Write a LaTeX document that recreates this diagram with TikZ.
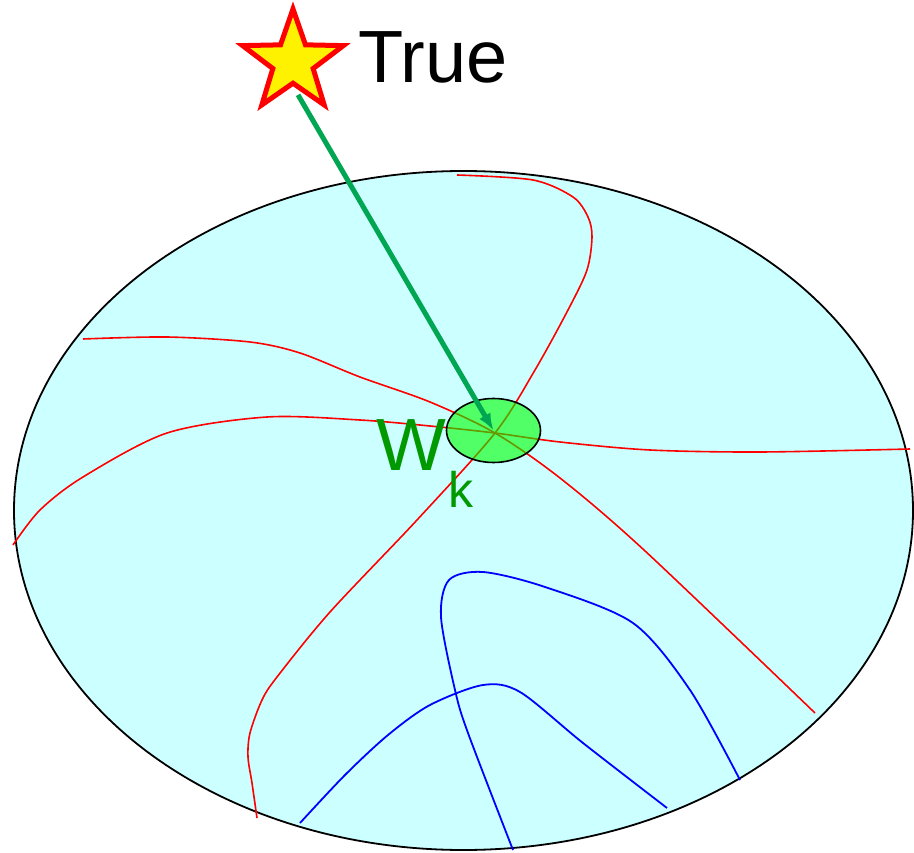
\documentclass[tikz,border=0pt]{standalone}
\usepackage{fontspec}
\setmainfont{Liberation Sans}
\usepackage{tikz}
\usetikzlibrary{
  arrows.meta,
  positioning,
  shapes.geometric
}
\definecolor{diskcyan}{HTML}{CCFFFF}
\definecolor{arrowgreen}{HTML}{00A651}
\definecolor{labelgreen}{HTML}{009900}

\begin{document}
\begin{tikzpicture}[x=1pt, y=-1pt,
    rc/.style={red, line width=1.6pt},
    bc/.style={blue, line width=1.8pt},
    ar/.style={-{Latex[length=17pt,width=13pt]}, line width=5pt, arrowgreen},
    lbl/.style={inner sep=0pt, anchor=base west}
  ]
    \useasboundingbox (0,0) rectangle (914,853);
    % ---- search space ----
    \node[ellipse, draw, line width=1.8pt, fill=diskcyan, inner sep=0pt,
          minimum width=899pt, minimum height=679pt] (disk) at (463.5,510.5) {};
    % ---- red contours through w_k ----
    \draw[rc] plot[smooth] coordinates {(457,175) (533,180) (573,197) (588,217)
      (592,237) (587,270) (568,310) (535,370) (495,433) (417,520) (330,612)
      (277,677) (262,700) (250,733) (248,757) (252,783) (257,818)};
    \draw[rc] plot[smooth] coordinates {(83,339) (167,337) (250,342) (300,353)
      (360,377) (430,402) (495,433) (560,478) (644,550) (815,713)};
    \draw[rc] plot[smooth] coordinates {(13,545) (40,510) (83,477) (167,433)
      (267,417) (360,420) (430,426) (495,433) (560,442) (650,450) (760,452)
      (910,449)};
    % ---- blue contours ----
    \draw[bc] plot[smooth] coordinates {(300,823) (345,775) (388,735) (430,705)
      (483,685) (520,692) (583,743) (667,808)};
    \draw[bc] plot[smooth] coordinates {(513,850) (468,733) (455,690) (441,617)
      (449,580) (483,572) (545,587) (633,623) (690,690) (740,780)};
    % ---- current estimate ----
    \node[ellipse, draw, line width=1.6pt, fill=green, fill opacity=0.6,
          draw opacity=1, inner sep=0pt, minimum width=94pt, minimum height=64pt]
          (wk) at (493.5,430.5) {};
    \node[lbl, font=\fontsize{74}{74}\selectfont, text=labelgreen] (wlbl) at (376,470) {W};
    \node[lbl, font=\fontsize{50}{50}\selectfont, text=labelgreen] (klbl) at (448,507) {k};
    % ---- true value ----
    \node[star, star points=5, star point ratio=2.5, draw=red, line width=5pt,
          fill=yellow, inner sep=0pt, minimum size=106pt] (truth) at (293,62) {};
    \node[lbl, font=\fontsize{74}{74}\selectfont] (tlbl) at (358,83) {True};
    \draw[ar, shorten <=10pt] (truth.south) -- (wk.center);
  \end{tikzpicture}
\end{document}
